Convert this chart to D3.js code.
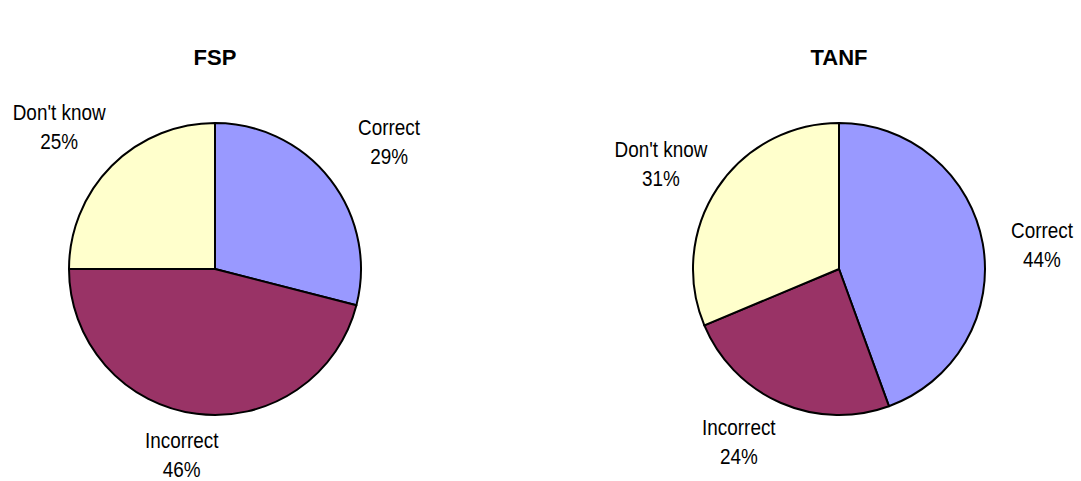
<!DOCTYPE html>
<html><head><meta charset="utf-8">
<script src="https://cdn.jsdelivr.net/npm/d3@7"></script>
<style>
body{margin:0;background:#fff;}
svg{display:block;}
.title{font-family:"Liberation Sans",Arial,sans-serif;font-weight:bold;font-size:22px;}
.lbl{font-family:"Liberation Sans",Arial,sans-serif;font-size:22px;}
</style></head>
<body>
<script>
const categories = ["Correct", "Incorrect", "Don't know"];
const colors = ["#9999FF", "#993366", "#FFFFCC"];
const chartTitles = ["FSP", "TANF"];
const fspValues = [29, 46, 25];
const tanfValues = [44, 24, 31];

const W = 1081, H = 481;
const svg = d3.select("body").append("svg").attr("width", W).attr("height", H);

// layout: pie centres, label distance from centre and small angular nudge (degrees)
const charts = [
  {title: chartTitles[0], values: fspValues, cx: 215, labelR: [216, 188, 211], labelDA: [1.5, 3, -2.6]},
  {title: chartTitles[1], values: tanfValues, cx: 839, labelR: [204.5, 199.5, 206.7], labelDA: [3, 6.5, -3.1]}
];
const cy = 269, r = 146;

const pie = d3.pie().sort(null).value(d => d.v);
const arc = d3.arc().innerRadius(0).outerRadius(r);

charts.forEach(c => {
  svg.append("text").attr("class", "title").attr("x", c.cx).attr("y", 65)
    .attr("text-anchor", "middle").text(c.title);
  const g = svg.append("g").attr("transform", `translate(${c.cx},${cy})`);
  const data = pie(categories.map((k, i) => ({k, v: c.values[i], col: colors[i]})));
  g.selectAll("path").data(data).join("path")
    .attr("d", arc).attr("fill", d => d.data.col)
    .attr("stroke", "#000").attr("stroke-width", 2).attr("stroke-linejoin", "round");
  data.forEach((d, i) => {
    const a = (d.startAngle + d.endAngle) / 2 + c.labelDA[i] * Math.PI / 180;
    const R = c.labelR[i];
    const x = Math.sin(a) * R, y = -Math.cos(a) * R;
    const lg = g.append("g").attr("transform", `translate(${x},${y}) scale(0.86,1)`);
    const t = lg.append("text").attr("class", "lbl").attr("text-anchor", "middle");
    t.append("tspan").attr("x", 0).attr("y", -6.5).text(d.data.k);
    t.append("tspan").attr("x", 0).attr("y", 22.5).text(d.data.v + "%");
  });
});
</script>
</body></html>
